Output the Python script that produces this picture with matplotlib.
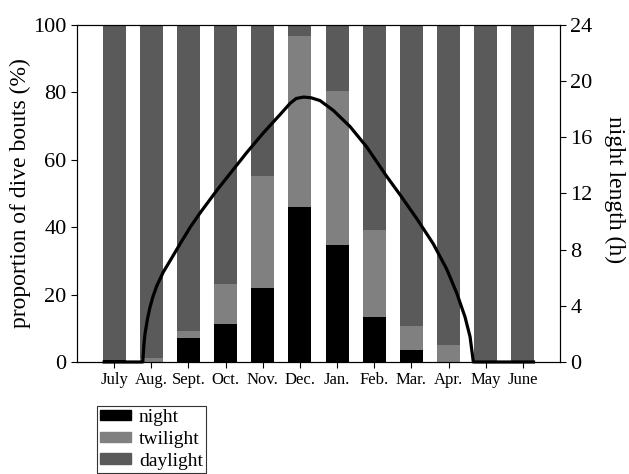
import numpy as np
import matplotlib
matplotlib.use("Agg")
import matplotlib.pyplot as plt
from matplotlib.patches import Patch

plt.rcParams["font.family"] = ["Liberation Serif", "DejaVu Serif"]

# proportion of dive bouts (%) per month
MONTHS = ["July", "Aug.", "Sept.", "Oct.", "Nov.", "Dec.", "Jan.",
          "Feb.", "Mar.", "Apr.", "May", "June"]
NIGHT = [0.5, 0.0, 7.1, 11.3, 21.9, 46.0, 34.7, 13.3, 3.6, 0.0, 0.0, 0.0]
TWILIGHT = [0.0, 1.3, 2.1, 11.8, 33.2, 50.6, 45.6, 25.8, 7.1, 5.0, 0.0, 0.0]
DAYLIGHT = [100 - n - t for n, t in zip(NIGHT, TWILIGHT)]

# night length (h), x in month positions
CURVE_X = [-0.31, 0.77, 0.80, 0.83, 0.90, 0.965, 1.05, 1.145, 1.323, 1.55,
           1.773, 2.05, 2.311, 2.76, 3.118, 3.568, 4.015, 4.464, 4.734, 4.9,
           5.1, 5.3, 5.541, 5.899, 6.349, 6.798, 7.337, 7.695, 8.145, 8.591,
           8.952, 9.221, 9.444, 9.579, 9.668, 11.33]
CURVE_H = [0.0, 0.0, 1.2, 2.0, 3.1, 3.9, 4.7, 5.4, 6.4, 7.4,
           8.4, 9.6, 10.6, 12.2, 13.4, 14.9, 16.3, 17.6, 18.4, 18.75,
           18.85, 18.8, 18.6, 17.9, 16.75, 15.3, 13.2, 11.9, 10.2, 8.4,
           6.6, 4.9, 3.2, 1.8, 0.0, 0.0]

C_NIGHT, C_TWI, C_DAY = "#000000", "#808080", "#5a5a5a"

fig = plt.figure(figsize=(6.29, 4.74), dpi=100)
ax = fig.add_axes([0.1224, 0.2363, 0.7679, 0.7116])
x = np.arange(len(MONTHS))
w = 0.62
ax.bar(x, NIGHT, w, color=C_NIGHT, zorder=2)
ax.bar(x, TWILIGHT, w, bottom=NIGHT, color=C_TWI, zorder=2)
ax.bar(x, DAYLIGHT, w, bottom=np.add(NIGHT, TWILIGHT), color=C_DAY, zorder=2)
ax.set_xlim(-1, 12)
ax.set_ylim(0, 100)
ax.set_yticks(range(0, 101, 20))
ax.set_xticks(x)
ax.set_xticklabels(MONTHS, fontsize=12)
ax.tick_params(axis="y", labelsize=16, direction="out", length=4)
ax.tick_params(axis="x", direction="out", length=4, pad=3)
ax.set_ylabel("proportion of dive bouts (%)", fontsize=17, va="center")
ax.yaxis.set_label_coords(-0.118, 0.5)

ax2 = ax.twinx()
ax2.plot(CURVE_X, CURVE_H, color="black", lw=2.3, solid_capstyle="butt",
         clip_on=False, zorder=3)
ax2.set_ylim(0, 24)
ax2.set_yticks(range(0, 25, 4))
ax2.tick_params(axis="y", labelsize=16, direction="out", length=4)
ax2.set_ylabel("night length (h)", fontsize=17, rotation=270, va="center")
ax2.yaxis.set_label_coords(1.113, 0.51)

handles = [Patch(color=C_NIGHT, label="night"),
           Patch(color=C_TWI, label="twilight"),
           Patch(color=C_DAY, label="daylight")]
leg = fig.legend(handles=handles, loc="upper left",
                 bbox_to_anchor=(97 / 629, 1 - 406 / 474), fontsize=14,
                 frameon=True, fancybox=False, edgecolor="black",
                 handlelength=1.6, handleheight=0.45, handletextpad=0.4,
                 borderpad=0.15, labelspacing=0.25, borderaxespad=0)
leg.get_frame().set_linewidth(0.8)

fig.savefig("out.png", dpi=100)
